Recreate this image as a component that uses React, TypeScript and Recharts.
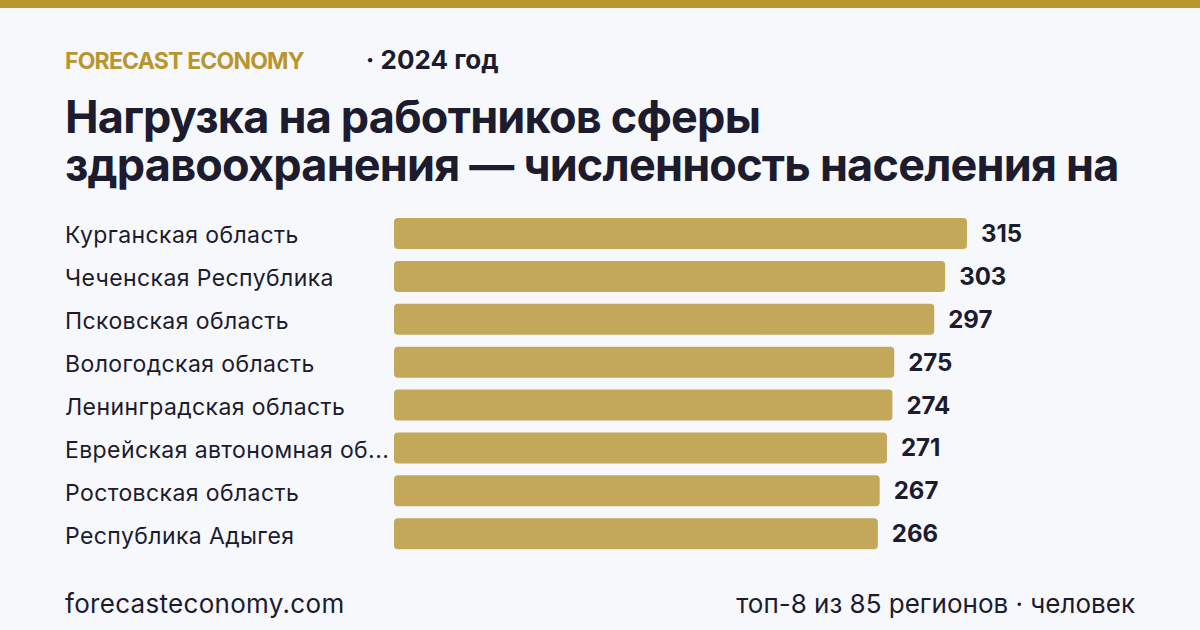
import { Bar, BarChart, LabelList, XAxis, YAxis } from 'recharts'

const regions = [
  'Курганская область',
  'Чеченская Республика',
  'Псковская область',
  'Вологодская область',
  'Ленинградская область',
  'Еврейская автономная область',
  'Ростовская область',
  'Республика Адыгея',
]
const population = [315, 303, 297, 275, 274, 271, 267, 266]

const titleLines = [
  'Нагрузка на работников сферы',
  'здравоохранения — численность населения на',
]

const data = regions.map((name, i) => ({ name, value: population[i] }))

const GOLD = '#b8962e'
const BAR = '#c4a85a'
const INK = '#1c1c2e'
const BG = '#f7f8fc'

function shorten(label: string, max = 24) {
  return label.length > max ? label.slice(0, max - 1) + '...' : label
}

function RegionTick({ y, payload }: any) {
  return (
    <text
      x={65}
      y={y}
      dy={10}
      textAnchor="start"
      fill={INK}
      fontSize={23}
      letterSpacing={0.4}
      fontFamily="Inter, sans-serif"
    >
      {shorten(payload.value)}
    </text>
  )
}

export default function App() {
  return (
    <div
      style={{
        position: 'absolute',
        top: 0,
        left: 0,
        width: 1200,
        height: 630,
        background: BG,
        overflow: 'hidden',
        fontFamily: 'Inter, sans-serif',
        color: INK,
      }}
    >
      <div style={{ height: 8, background: GOLD }} />
      <div
        style={{
          position: 'absolute',
          left: 65,
          top: 45,
          fontSize: 23,
          lineHeight: '30px',
          fontWeight: 700,
          whiteSpace: 'nowrap',
        }}
      >
        <span style={{ color: GOLD, letterSpacing: -0.8 }}>FORECAST ECONOMY</span>
        <span style={{ marginLeft: 62, fontSize: 26 }}>· 2024 год</span>
      </div>
      {titleLines.map((line, i) => (
        <div
          key={line}
          style={{
            position: 'absolute',
            left: 65,
            top: 93 + i * 48,
            fontSize: 45,
            fontWeight: 700,
            lineHeight: '48px',
            letterSpacing: -0.8,
            whiteSpace: 'nowrap',
          }}
        >
          {line}
        </div>
      ))}

      <div style={{ position: 'absolute', left: 0, top: 212 }}>
        <BarChart
          width={1200}
          height={343}
          data={data}
          layout="vertical"
          margin={{ top: 0, right: 233, bottom: 0, left: 0 }}
        >
          <XAxis type="number" domain={[0, 315]} hide />
          <YAxis
            type="category"
            dataKey="name"
            width={394}
            axisLine={false}
            tickLine={false}
            tick={<RegionTick />}
            interval={0}
          />
          <Bar dataKey="value" fill={BAR} barSize={31} radius={4} isAnimationActive={false}>
            <LabelList
              dataKey="value"
              position="right"
              offset={14}
              fill={INK}
              fontSize={24}
              fontWeight={700}
              fontFamily="Inter, sans-serif"
            />
          </Bar>
        </BarChart>
      </div>

      <div
        style={{
          position: 'absolute',
          left: 65,
          top: 588,
          fontSize: 26,
          lineHeight: '32px',
          letterSpacing: 0.3,
        }}
      >
        forecasteconomy.com
      </div>
      <div
        style={{
          position: 'absolute',
          right: 65,
          top: 588,
          fontSize: 26,
          lineHeight: '32px',
          whiteSpace: 'nowrap',
        }}
      >
        топ-8 из 85 регионов · человек
      </div>
    </div>
  )
}
